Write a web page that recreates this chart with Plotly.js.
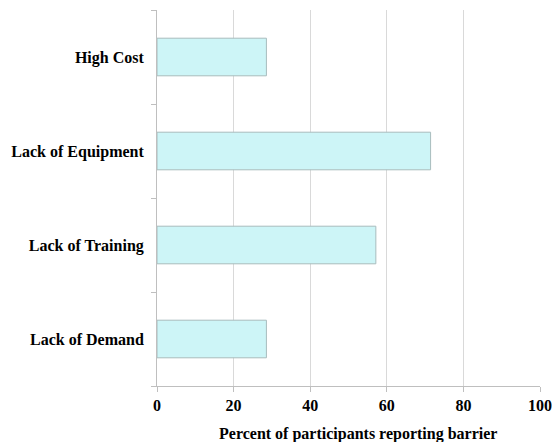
<!DOCTYPE html>
<html>
<head>
<meta charset="utf-8">
<script src="https://cdn.plot.ly/plotly-3.0.1.min.js"></script>
<style>html,body{margin:0;padding:0;background:#fff;}#chart{width:552px;height:442px;}</style>
</head>
<body>
<div id="chart"></div>
<script>
const categories = ["High Cost", "Lack of Equipment", "Lack of Training", "Lack of Demand"];
const percents = [28.57, 71.43, 57.14, 28.57];
const xTicks = [0, 20, 40, 60, 80, 100];
const xTitle = "Percent of participants reporting barrier";

const font = "Liberation Serif, Times New Roman, serif";

Plotly.newPlot("chart", [{
  type: "bar",
  orientation: "h",
  y: categories,
  x: percents,
  marker: {color: "#cdf5f7", line: {color: "#a9bcbd", width: 1}},
  hoverinfo: "x+y"
}], {
  width: 552, height: 442,
  margin: {l: 157, r: 12, t: 10, b: 56},
  paper_bgcolor: "#fff", plot_bgcolor: "#fff",
  showlegend: false,
  bargap: 0.6,
  font: {family: font, color: "#000"},
  xaxis: {
    range: [0, 100], tickvals: xTicks, ticktext: xTicks.map(v => "<b>" + v + "</b>"),
    showgrid: true, gridcolor: "#d9d9d9", gridwidth: 1,
    zeroline: false, showline: true, linecolor: "#bfbfbf", linewidth: 1,
    ticks: "outside", ticklen: 5, tickcolor: "#bfbfbf",
    tickfont: {family: font, size: 16, color: "#000"},
    fixedrange: true
  },
  yaxis: {
    type: "category", autorange: "reversed",
    tickvals: categories, ticktext: categories.map(c => "<b>" + c + "</b>"),
    tickson: "boundaries", ticks: "outside", ticklen: 5, tickcolor: "#bfbfbf",
    ticklabelstandoff: 9,
    showgrid: false, showline: true, linecolor: "#bfbfbf", linewidth: 1,
    tickfont: {family: font, size: 16, color: "#000"},
    fixedrange: true
  },
  annotations: [{
    text: "<b>" + xTitle + "</b>", xref: "paper", yref: "paper",
    x: 0.525, y: -0.128, xanchor: "center", yanchor: "middle",
    showarrow: false, font: {family: font, size: 16, color: "#000"}
  }]
}, {displayModeBar: false, staticPlot: true});
</script>
</body>
</html>
